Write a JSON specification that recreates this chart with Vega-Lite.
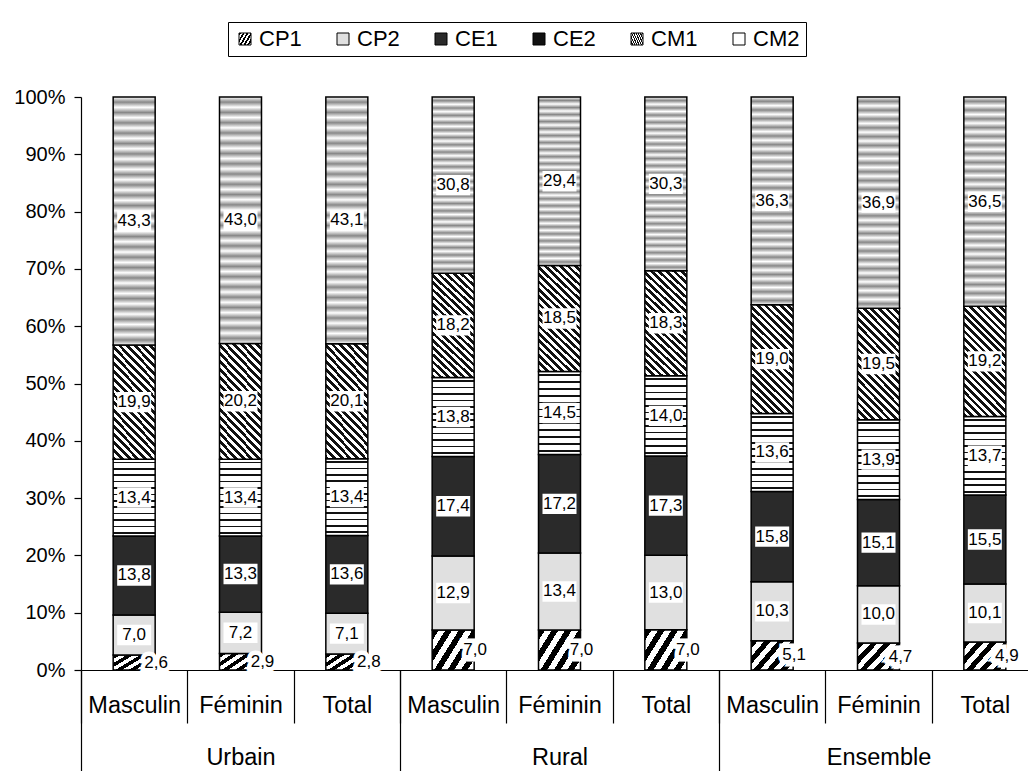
{
  "$schema": "https://vega.github.io/schema/vega-lite/v6.json",
  "width": 947,
  "height": 573,
  "autosize": {"type": "none"},
  "padding": {"left": 81, "top": 97, "right": 0, "bottom": 101},
  "background": "white",
  "config": {
    "view": {"stroke": null},
    "font": "Liberation Sans",
    "locale": {"number": {"decimal": ",", "thousands": " ", "grouping": [3], "currency": ["", " €"]}},
    "axis": {"labelFont": "Liberation Sans", "labelColor": "black", "domainColor": "black", "tickColor": "black", "grid": false, "title": null}
  },
  "data": {"values": [
    {"zone": "Urbain", "id": "Urbain|Masculin", "niveau": "CP1", "ord": 1, "value": 2.6},
    {"zone": "Urbain", "id": "Urbain|Masculin", "niveau": "CP2", "ord": 2, "value": 7.0},
    {"zone": "Urbain", "id": "Urbain|Masculin", "niveau": "CE1", "ord": 3, "value": 13.8},
    {"zone": "Urbain", "id": "Urbain|Masculin", "niveau": "CE2", "ord": 4, "value": 13.4},
    {"zone": "Urbain", "id": "Urbain|Masculin", "niveau": "CM1", "ord": 5, "value": 19.9},
    {"zone": "Urbain", "id": "Urbain|Masculin", "niveau": "CM2", "ord": 6, "value": 43.3},
    {"zone": "Urbain", "id": "Urbain|Féminin", "niveau": "CP1", "ord": 1, "value": 2.9},
    {"zone": "Urbain", "id": "Urbain|Féminin", "niveau": "CP2", "ord": 2, "value": 7.2},
    {"zone": "Urbain", "id": "Urbain|Féminin", "niveau": "CE1", "ord": 3, "value": 13.3},
    {"zone": "Urbain", "id": "Urbain|Féminin", "niveau": "CE2", "ord": 4, "value": 13.4},
    {"zone": "Urbain", "id": "Urbain|Féminin", "niveau": "CM1", "ord": 5, "value": 20.2},
    {"zone": "Urbain", "id": "Urbain|Féminin", "niveau": "CM2", "ord": 6, "value": 43.0},
    {"zone": "Urbain", "id": "Urbain|Total", "niveau": "CP1", "ord": 1, "value": 2.8},
    {"zone": "Urbain", "id": "Urbain|Total", "niveau": "CP2", "ord": 2, "value": 7.1},
    {"zone": "Urbain", "id": "Urbain|Total", "niveau": "CE1", "ord": 3, "value": 13.6},
    {"zone": "Urbain", "id": "Urbain|Total", "niveau": "CE2", "ord": 4, "value": 13.4},
    {"zone": "Urbain", "id": "Urbain|Total", "niveau": "CM1", "ord": 5, "value": 20.1},
    {"zone": "Urbain", "id": "Urbain|Total", "niveau": "CM2", "ord": 6, "value": 43.1},
    {"zone": "Rural", "id": "Rural|Masculin", "niveau": "CP1", "ord": 1, "value": 7.0},
    {"zone": "Rural", "id": "Rural|Masculin", "niveau": "CP2", "ord": 2, "value": 12.9},
    {"zone": "Rural", "id": "Rural|Masculin", "niveau": "CE1", "ord": 3, "value": 17.4},
    {"zone": "Rural", "id": "Rural|Masculin", "niveau": "CE2", "ord": 4, "value": 13.8},
    {"zone": "Rural", "id": "Rural|Masculin", "niveau": "CM1", "ord": 5, "value": 18.2},
    {"zone": "Rural", "id": "Rural|Masculin", "niveau": "CM2", "ord": 6, "value": 30.8},
    {"zone": "Rural", "id": "Rural|Féminin", "niveau": "CP1", "ord": 1, "value": 7.0},
    {"zone": "Rural", "id": "Rural|Féminin", "niveau": "CP2", "ord": 2, "value": 13.4},
    {"zone": "Rural", "id": "Rural|Féminin", "niveau": "CE1", "ord": 3, "value": 17.2},
    {"zone": "Rural", "id": "Rural|Féminin", "niveau": "CE2", "ord": 4, "value": 14.5},
    {"zone": "Rural", "id": "Rural|Féminin", "niveau": "CM1", "ord": 5, "value": 18.5},
    {"zone": "Rural", "id": "Rural|Féminin", "niveau": "CM2", "ord": 6, "value": 29.4},
    {"zone": "Rural", "id": "Rural|Total", "niveau": "CP1", "ord": 1, "value": 7.0},
    {"zone": "Rural", "id": "Rural|Total", "niveau": "CP2", "ord": 2, "value": 13.0},
    {"zone": "Rural", "id": "Rural|Total", "niveau": "CE1", "ord": 3, "value": 17.3},
    {"zone": "Rural", "id": "Rural|Total", "niveau": "CE2", "ord": 4, "value": 14.0},
    {"zone": "Rural", "id": "Rural|Total", "niveau": "CM1", "ord": 5, "value": 18.3},
    {"zone": "Rural", "id": "Rural|Total", "niveau": "CM2", "ord": 6, "value": 30.3},
    {"zone": "Ensemble", "id": "Ensemble|Masculin", "niveau": "CP1", "ord": 1, "value": 5.1},
    {"zone": "Ensemble", "id": "Ensemble|Masculin", "niveau": "CP2", "ord": 2, "value": 10.3},
    {"zone": "Ensemble", "id": "Ensemble|Masculin", "niveau": "CE1", "ord": 3, "value": 15.8},
    {"zone": "Ensemble", "id": "Ensemble|Masculin", "niveau": "CE2", "ord": 4, "value": 13.6},
    {"zone": "Ensemble", "id": "Ensemble|Masculin", "niveau": "CM1", "ord": 5, "value": 19.0},
    {"zone": "Ensemble", "id": "Ensemble|Masculin", "niveau": "CM2", "ord": 6, "value": 36.3},
    {"zone": "Ensemble", "id": "Ensemble|Féminin", "niveau": "CP1", "ord": 1, "value": 4.7},
    {"zone": "Ensemble", "id": "Ensemble|Féminin", "niveau": "CP2", "ord": 2, "value": 10.0},
    {"zone": "Ensemble", "id": "Ensemble|Féminin", "niveau": "CE1", "ord": 3, "value": 15.1},
    {"zone": "Ensemble", "id": "Ensemble|Féminin", "niveau": "CE2", "ord": 4, "value": 13.9},
    {"zone": "Ensemble", "id": "Ensemble|Féminin", "niveau": "CM1", "ord": 5, "value": 19.5},
    {"zone": "Ensemble", "id": "Ensemble|Féminin", "niveau": "CM2", "ord": 6, "value": 36.9},
    {"zone": "Ensemble", "id": "Ensemble|Total", "niveau": "CP1", "ord": 1, "value": 4.9},
    {"zone": "Ensemble", "id": "Ensemble|Total", "niveau": "CP2", "ord": 2, "value": 10.1},
    {"zone": "Ensemble", "id": "Ensemble|Total", "niveau": "CE1", "ord": 3, "value": 15.5},
    {"zone": "Ensemble", "id": "Ensemble|Total", "niveau": "CE2", "ord": 4, "value": 13.7},
    {"zone": "Ensemble", "id": "Ensemble|Total", "niveau": "CM1", "ord": 5, "value": 19.2},
    {"zone": "Ensemble", "id": "Ensemble|Total", "niveau": "CM2", "ord": 6, "value": 36.5}
  ]},
  "resolve": {"scale": {"x": "independent"}, "axis": {"x": "independent"}},
  "layer": [
    {
      "encoding": {
        "x": {
          "field": "id", "type": "nominal",
          "sort": ["Urbain|Masculin", "Urbain|Féminin", "Urbain|Total", "Rural|Masculin", "Rural|Féminin", "Rural|Total", "Ensemble|Masculin", "Ensemble|Féminin", "Ensemble|Total"],
          "scale": {"range": [0, 957], "paddingInner": 0, "paddingOuter": 0},
          "axis": {"orient": "bottom", "labelExpr": "split(datum.value, '|')[1]", "labelAngle": 0, "labelFontSize": 23.5, "tickBand": "extent", "tickSize": 53, "tickWidth": 1.2, "domainWidth": 1.2, "labelPadding": -30, "labelBaseline": "top"}
        },
        "order": {"field": "ord", "type": "quantitative"}
      },
      "layer": [
        {
          "mark": {"type": "bar", "width": 42, "stroke": "black", "strokeWidth": 1.5},
          "encoding": {
            "y": {
              "field": "value", "type": "quantitative", "stack": "normalize",
              "scale": {"domain": [0, 1]},
              "axis": {"format": ".0%", "values": [0, 0.1, 0.2, 0.3, 0.4, 0.5, 0.6, 0.7, 0.8, 0.9, 1], "labelFontSize": 20, "tickSize": 7, "labelPadding": 9, "domainWidth": 1.2, "tickWidth": 1.2}
            },
            "color": {
              "field": "niveau", "type": "nominal",
              "scale": {
                "domain": ["CP1", "CP2", "CE1", "CE2", "CM1", "CM2"],
                "range": [
                  {"expr": "{gradient:'linear',x1:0,y1:0,x2:1.18,y2:0.7,stops:[{offset:0.1,color:'#000'},{offset:0.1,color:'#fff'},{offset:0.2,color:'#fff'},{offset:0.2,color:'#000'},{offset:0.3,color:'#000'},{offset:0.3,color:'#fff'},{offset:0.4,color:'#fff'},{offset:0.4,color:'#000'},{offset:0.5,color:'#000'},{offset:0.5,color:'#fff'},{offset:0.6,color:'#fff'},{offset:0.6,color:'#000'},{offset:0.7,color:'#000'},{offset:0.7,color:'#fff'},{offset:0.8,color:'#fff'},{offset:0.8,color:'#000'},{offset:0.9,color:'#000'},{offset:0.9,color:'#fff'}]}"},
                  "#e0e0e0",
                  "#2a2a2a",
                  {"expr": "{gradient:'linear',x1:0,y1:0,x2:0,y2:1,stops:[{offset:0.03125,color:'#fff'},{offset:0.03125,color:'#111'},{offset:0.05208,color:'#111'},{offset:0.05208,color:'#fff'},{offset:0.11458,color:'#fff'},{offset:0.11458,color:'#111'},{offset:0.13542,color:'#111'},{offset:0.13542,color:'#fff'},{offset:0.19792,color:'#fff'},{offset:0.19792,color:'#111'},{offset:0.21875,color:'#111'},{offset:0.21875,color:'#fff'},{offset:0.28125,color:'#fff'},{offset:0.28125,color:'#111'},{offset:0.30208,color:'#111'},{offset:0.30208,color:'#fff'},{offset:0.36458,color:'#fff'},{offset:0.36458,color:'#111'},{offset:0.38542,color:'#111'},{offset:0.38542,color:'#fff'},{offset:0.44792,color:'#fff'},{offset:0.44792,color:'#111'},{offset:0.46875,color:'#111'},{offset:0.46875,color:'#fff'},{offset:0.53125,color:'#fff'},{offset:0.53125,color:'#111'},{offset:0.55208,color:'#111'},{offset:0.55208,color:'#fff'},{offset:0.61458,color:'#fff'},{offset:0.61458,color:'#111'},{offset:0.63542,color:'#111'},{offset:0.63542,color:'#fff'},{offset:0.69792,color:'#fff'},{offset:0.69792,color:'#111'},{offset:0.71875,color:'#111'},{offset:0.71875,color:'#fff'},{offset:0.78125,color:'#fff'},{offset:0.78125,color:'#111'},{offset:0.80208,color:'#111'},{offset:0.80208,color:'#fff'},{offset:0.86458,color:'#fff'},{offset:0.86458,color:'#111'},{offset:0.88542,color:'#111'},{offset:0.88542,color:'#fff'},{offset:0.94792,color:'#fff'},{offset:0.94792,color:'#111'},{offset:0.96875,color:'#111'},{offset:0.96875,color:'#fff'}]}"},
                  {"expr": "{gradient:'linear',x1:0,y1:1,x2:0.461,y2:-0.207,stops:[{offset:0.025,color:'#111'},{offset:0.025,color:'#fff'},{offset:0.05,color:'#fff'},{offset:0.05,color:'#111'},{offset:0.075,color:'#111'},{offset:0.075,color:'#fff'},{offset:0.1,color:'#fff'},{offset:0.1,color:'#111'},{offset:0.125,color:'#111'},{offset:0.125,color:'#fff'},{offset:0.15,color:'#fff'},{offset:0.15,color:'#111'},{offset:0.175,color:'#111'},{offset:0.175,color:'#fff'},{offset:0.2,color:'#fff'},{offset:0.2,color:'#111'},{offset:0.225,color:'#111'},{offset:0.225,color:'#fff'},{offset:0.25,color:'#fff'},{offset:0.25,color:'#111'},{offset:0.275,color:'#111'},{offset:0.275,color:'#fff'},{offset:0.3,color:'#fff'},{offset:0.3,color:'#111'},{offset:0.325,color:'#111'},{offset:0.325,color:'#fff'},{offset:0.35,color:'#fff'},{offset:0.35,color:'#111'},{offset:0.375,color:'#111'},{offset:0.375,color:'#fff'},{offset:0.4,color:'#fff'},{offset:0.4,color:'#111'},{offset:0.425,color:'#111'},{offset:0.425,color:'#fff'},{offset:0.45,color:'#fff'},{offset:0.45,color:'#111'},{offset:0.475,color:'#111'},{offset:0.475,color:'#fff'},{offset:0.5,color:'#fff'},{offset:0.5,color:'#111'},{offset:0.525,color:'#111'},{offset:0.525,color:'#fff'},{offset:0.55,color:'#fff'},{offset:0.55,color:'#111'},{offset:0.575,color:'#111'},{offset:0.575,color:'#fff'},{offset:0.6,color:'#fff'},{offset:0.6,color:'#111'},{offset:0.625,color:'#111'},{offset:0.625,color:'#fff'},{offset:0.65,color:'#fff'},{offset:0.65,color:'#111'},{offset:0.675,color:'#111'},{offset:0.675,color:'#fff'},{offset:0.7,color:'#fff'},{offset:0.7,color:'#111'},{offset:0.725,color:'#111'},{offset:0.725,color:'#fff'},{offset:0.75,color:'#fff'},{offset:0.75,color:'#111'},{offset:0.775,color:'#111'},{offset:0.775,color:'#fff'},{offset:0.8,color:'#fff'},{offset:0.8,color:'#111'},{offset:0.825,color:'#111'},{offset:0.825,color:'#fff'},{offset:0.85,color:'#fff'},{offset:0.85,color:'#111'},{offset:0.875,color:'#111'},{offset:0.875,color:'#fff'},{offset:0.9,color:'#fff'},{offset:0.9,color:'#111'},{offset:0.925,color:'#111'},{offset:0.925,color:'#fff'},{offset:0.95,color:'#fff'},{offset:0.95,color:'#111'},{offset:0.975,color:'#111'},{offset:0.975,color:'#fff'}]}"},
                  {"expr": "{gradient:'linear',x1:0,y1:0,x2:0,y2:1,stops:[{offset:0,color:'#fff'},{offset:0.0208,color:'#888'},{offset:0.0417,color:'#fff'},{offset:0.0625,color:'#888'},{offset:0.0833,color:'#fff'},{offset:0.1042,color:'#888'},{offset:0.125,color:'#fff'},{offset:0.1458,color:'#888'},{offset:0.1667,color:'#fff'},{offset:0.1875,color:'#888'},{offset:0.2083,color:'#fff'},{offset:0.2292,color:'#888'},{offset:0.25,color:'#fff'},{offset:0.2708,color:'#888'},{offset:0.2917,color:'#fff'},{offset:0.3125,color:'#888'},{offset:0.3333,color:'#fff'},{offset:0.3542,color:'#888'},{offset:0.375,color:'#fff'},{offset:0.3958,color:'#888'},{offset:0.4167,color:'#fff'},{offset:0.4375,color:'#888'},{offset:0.4583,color:'#fff'},{offset:0.4792,color:'#888'},{offset:0.5,color:'#fff'},{offset:0.5208,color:'#888'},{offset:0.5417,color:'#fff'},{offset:0.5625,color:'#888'},{offset:0.5833,color:'#fff'},{offset:0.6042,color:'#888'},{offset:0.625,color:'#fff'},{offset:0.6458,color:'#888'},{offset:0.6667,color:'#fff'},{offset:0.6875,color:'#888'},{offset:0.7083,color:'#fff'},{offset:0.7292,color:'#888'},{offset:0.75,color:'#fff'},{offset:0.7708,color:'#888'},{offset:0.7917,color:'#fff'},{offset:0.8125,color:'#888'},{offset:0.8333,color:'#fff'},{offset:0.8542,color:'#888'},{offset:0.875,color:'#fff'},{offset:0.8958,color:'#888'},{offset:0.9167,color:'#fff'},{offset:0.9375,color:'#888'},{offset:0.9583,color:'#fff'},{offset:0.9792,color:'#888'},{offset:1,color:'#fff'}]}"}
                ]
              },
              "legend": {"orient": "none", "legendX": 147, "legendY": -75, "direction": "horizontal", "columns": 6, "title": null, "labelFontSize": 22, "labelFont": "Liberation Sans", "labelColor": "black", "symbolType": "square", "symbolSize": 144, "symbolStrokeColor": "black", "symbolStrokeWidth": 1, "symbolOpacity": 1, "strokeColor": "black", "padding": 6, "columnPadding": 30, "labelOffset": 3}
            }
          }
        },
        {
          "mark": {"type": "point", "shape": "M-1,-0.6H1V0.6H-1Z", "filled": true, "fill": "white", "size": 1156, "strokeWidth": 0},
          "encoding": {
            "y": {"field": "value", "type": "quantitative", "stack": "normalize", "bandPosition": 0.5},
            "detail": {"field": "niveau", "type": "nominal"},
            "opacity": {"condition": {"test": "datum.niveau === 'CP1'", "value": 0}, "value": 1}
          }
        },
        {
          "mark": {"type": "text", "fontSize": 17, "font": "Liberation Sans", "fill": "white", "stroke": "white", "strokeWidth": 9, "strokeJoin": "miter", "baseline": "middle", "align": "center", "dx": 22},
          "encoding": {
            "y": {"field": "value", "type": "quantitative", "stack": "normalize", "bandPosition": 0.5},
            "detail": {"field": "niveau", "type": "nominal"},
            "text": {"condition": {"test": "datum.niveau === 'CP1'", "field": "value", "type": "quantitative", "format": ".1f"}, "value": ""}
          }
        },
        {
          "mark": {"type": "text", "fontSize": 17, "font": "Liberation Sans", "fill": "black", "baseline": "middle", "align": "center"},
          "encoding": {
            "y": {"field": "value", "type": "quantitative", "stack": "normalize", "bandPosition": 0.5},
            "detail": {"field": "niveau", "type": "nominal"},
            "text": {"condition": {"test": "datum.niveau !== 'CP1'", "field": "value", "type": "quantitative", "format": ".1f"}, "value": ""}
          }
        },
        {
          "mark": {"type": "text", "fontSize": 17, "font": "Liberation Sans", "fill": "black", "baseline": "middle", "align": "center", "dx": 22},
          "encoding": {
            "y": {"field": "value", "type": "quantitative", "stack": "normalize", "bandPosition": 0.5},
            "detail": {"field": "niveau", "type": "nominal"},
            "text": {"condition": {"test": "datum.niveau === 'CP1'", "field": "value", "type": "quantitative", "format": ".1f"}, "value": ""}
          }
        }
      ]
    },
    {
      "mark": {"type": "rule", "strokeOpacity": 0},
      "encoding": {
        "x": {
          "field": "zone", "type": "nominal",
          "sort": ["Urbain", "Rural", "Ensemble"],
          "scale": {"range": [0, 957], "paddingInner": 0, "paddingOuter": 0},
          "axis": {"orient": "bottom", "domain": false, "labelAngle": 0, "labelFontSize": 23.5, "tickBand": "extent", "tickSize": 101, "tickWidth": 1.2, "labelPadding": -26, "labelBaseline": "top"}
        }
      }
    }
  ]
}
